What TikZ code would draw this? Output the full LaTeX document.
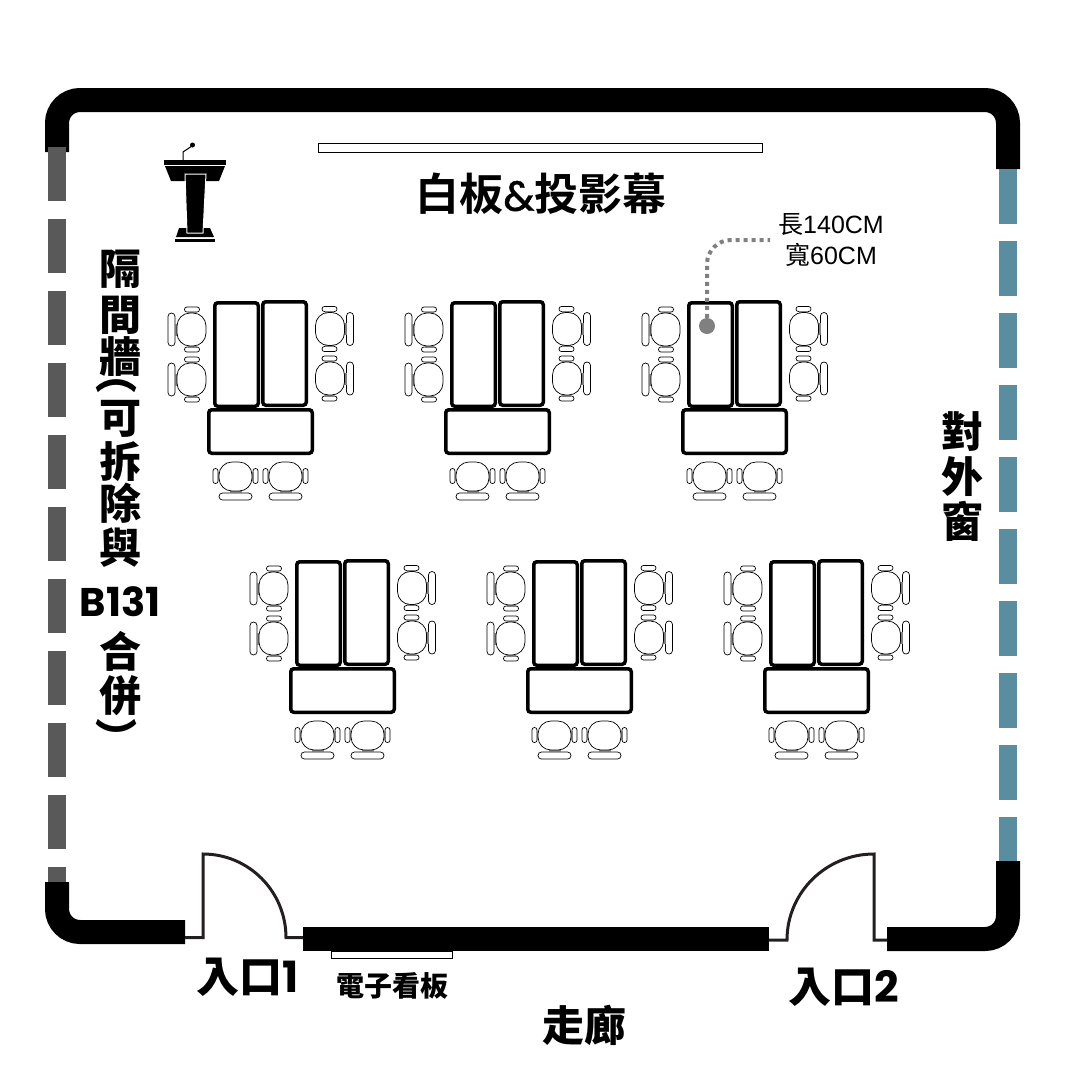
\documentclass[tikz,border=0pt]{standalone}
\usepackage{fontspec}
\setmainfont{Noto Sans CJK TC}
\newfontfamily\labelfont{Noto Sans CJK TC Black}
\newfontfamily\titlefont{Noto Sans CJK TC Bold}
\newfontfamily\sizefont{Noto Sans CJK TC}
\newfontfamily\sizelatin{Liberation Sans}
\newfontfamily\digitfont{Poppins}[BoldFont=* Bold]
\newfontfamily\ampfont{Poppins}[FakeBold=1]
\usepackage{tikz}
\usetikzlibrary{shapes.geometric, arrows}

\definecolor{dividergray}{HTML}{595959}
\definecolor{windowteal}{HTML}{5A8D9F}
\definecolor{doorline}{HTML}{231F20}
\definecolor{leadergray}{HTML}{808080}

\tikzstyle{wall} = [line width=24pt, line cap=butt]
\tikzstyle{divider} = [line width=18pt, dividergray, dash pattern=on 54pt off 18pt]
\tikzstyle{window} = [line width=18pt, windowteal, dash pattern=on 55pt off 17pt]
\tikzstyle{door} = [line width=3pt, doorline]
\tikzstyle{desk} = [rectangle, draw, line width=3.5pt, rounded corners=3pt, inner sep=0pt, minimum width=43.5pt, minimum height=103.5pt]
\tikzstyle{wide desk} = [desk, minimum width=103.5pt, minimum height=43.5pt]
\tikzstyle{seat} = [draw, line width=0.7pt, fill=white]
\tikzstyle{board} = [rectangle, draw, line width=1pt, inner sep=0pt]
\tikzstyle{title} = [inner sep=0pt, font=\labelfont]
\tikzstyle{leader} = [leadergray, line width=4pt, dash pattern=on 4pt off 4pt, rounded corners=24pt, shorten >=8pt]

\tikzset{
  chair/.pic={
    \draw [seat, rounded corners=3.4pt] (-16.5,16.5) rectangle (16.5,23.5);
    \draw [seat, rounded corners=2.4pt] (-22.5,-8) rectangle (-17.5,7);
    \draw [seat, rounded corners=2.4pt] (17.5,-8) rectangle (22.5,7);
    \fill [gray] (-6,13.5) rectangle (6,16.5);
    \fill [gray] (-18,-5) rectangle (-16,4);
    \fill [gray] (16,-5) rectangle (18,4);
    \draw [seat, rounded corners=13pt] (-16.5,-14.5) rectangle (16.5,14.5);
  }
}

% one group: two long desks, one wide desk, eight chairs
\newcommand{\deskgroup}[3]{
  \begin{scope}[shift={(#2,#3)}]
    \node (#1a) [desk] at (236.5,354.5) {};
    \node (#1b) [desk] at (284.5,353.5) {};
    \node (#1c) [wide desk] at (260.5,431.5) {};
    \foreach \y in {329.5,379.5} {
      \pic [rotate=-90] at (191.5,\y) {chair};
    }
    \foreach \y in {329,378.5} {
      \pic [rotate=90] at (330,\y) {chair};
    }
    \foreach \x in {235.5,285.5} {
      \pic at (\x,476.5) {chair};
    }
  \end{scope}
}

\begin{document}
\begin{tikzpicture}[x=1pt, y=-1pt]
\useasboundingbox (0,0) rectangle (1080,1080);

% Walls
\draw [wall] (57,152) -- (57,123) arc[start angle=180, end angle=90, x radius=23, y radius=-23] -- (985,100) arc[start angle=90, end angle=0, x radius=23, y radius=-23] -- (1008,169);
\draw [wall] (57,882) -- (57,909) arc[start angle=180, end angle=270, x radius=23, y radius=-23] -- (185,932);
\draw [wall] (303,939) -- (769,939);
\draw [wall] (887,939) -- (985,939) arc[start angle=270, end angle=360, x radius=23, y radius=-23] -- (1008,861);

% Divider and window
\draw [divider] (57,147) -- (57,882);
\draw [window] (1008,169) -- (1008,861);

% Doors
\draw [door] (185,937.7) -- (203,937.7) -- (203,854) arc[start angle=90, end angle=0, x radius=83, y radius=-83.7] -- (303,937.7);
\draw [door] (769,940) -- (787,940) arc[start angle=180, end angle=90, x radius=87, y radius=-86] -- (874,940) -- (887,940);

% Boards
\node (whiteboard) [board, minimum width=444pt, minimum height=9pt] at (540,147.5) {};
\node (screen) [board, minimum width=121pt, minimum height=7pt] at (391.5,954.5) {};

% Podium
\fill (164,160) rectangle (226,165);
\fill (165,166) -- (225,166) -- (219,181) -- (171,181) -- cycle;
\fill (179,228) -- (210,228) -- (214,237) -- (176,237) -- cycle;
\fill (175,239) rectangle (215,242);
\filldraw [draw=white, line width=1pt] (185,174) -- (206,174) -- (203,233) -- (187,233) -- cycle;
\draw [line width=1pt] (183,160) -- (183,152) -- (192,146);
\fill (192.5,145) circle (2.5);

% Desks
\deskgroup{one}{0}{0}
\deskgroup{two}{237}{0}
\deskgroup{three}{474}{0}
\deskgroup{four}{82}{259}
\deskgroup{five}{319}{259}
\deskgroup{six}{556}{259}

% Labels
\node (boardlabel) [title, font=\titlefont\fontsize{44}{44}\selectfont] at (541,194) {白板{\ampfont\fontsize{42}{44}\selectfont\&}投影幕};
\node (wallname) [title, anchor=north, align=center, font=\labelfont\fontsize{42}{44}\selectfont] at (120,250) {隔\\[2pt]間\\[-2pt]牆\\[-27pt]\kern-7pt︵\\[0pt]可\\拆\\[-2pt]除\\與\\[9pt]{\digitfont\bfseries\fontsize{40}{44}\selectfont B131}\\[7pt]合\\[0pt]併\\[-1pt]\kern-7pt︶};
\node (windowname) [title, align=center, font=\labelfont\fontsize{42}{45}\selectfont] at (962,477) {對\\外\\窗};
\node (doorone) [title, font=\labelfont\fontsize{43}{44}\selectfont] at (247.5,977) {入口{\digitfont\bfseries 1}};
\node (doortwo) [title, font=\labelfont\fontsize{43}{44}\selectfont] at (844,987) {入口{\digitfont\bfseries 2}};
\node (screenname) [title, font=\labelfont\fontsize{28}{28}\selectfont] at (392,986) {電子看板};
\node (corridor) [title, font=\labelfont\fontsize{42}{44}\selectfont] at (584,1025) {走廊};
\node (sizelabel) [inner sep=0pt, align=center, font=\sizefont\fontsize{25}{31}\selectfont] at (831,240) {長{\sizelatin 140CM}\\寬{\sizelatin 60CM}};

% Leader
\node (sizedot) [circle, fill=leadergray, minimum size=16pt, inner sep=0pt] at (707,326) {};
\draw [leader] (sizedot) |- (sizelabel.west);

\end{tikzpicture}
\end{document}
